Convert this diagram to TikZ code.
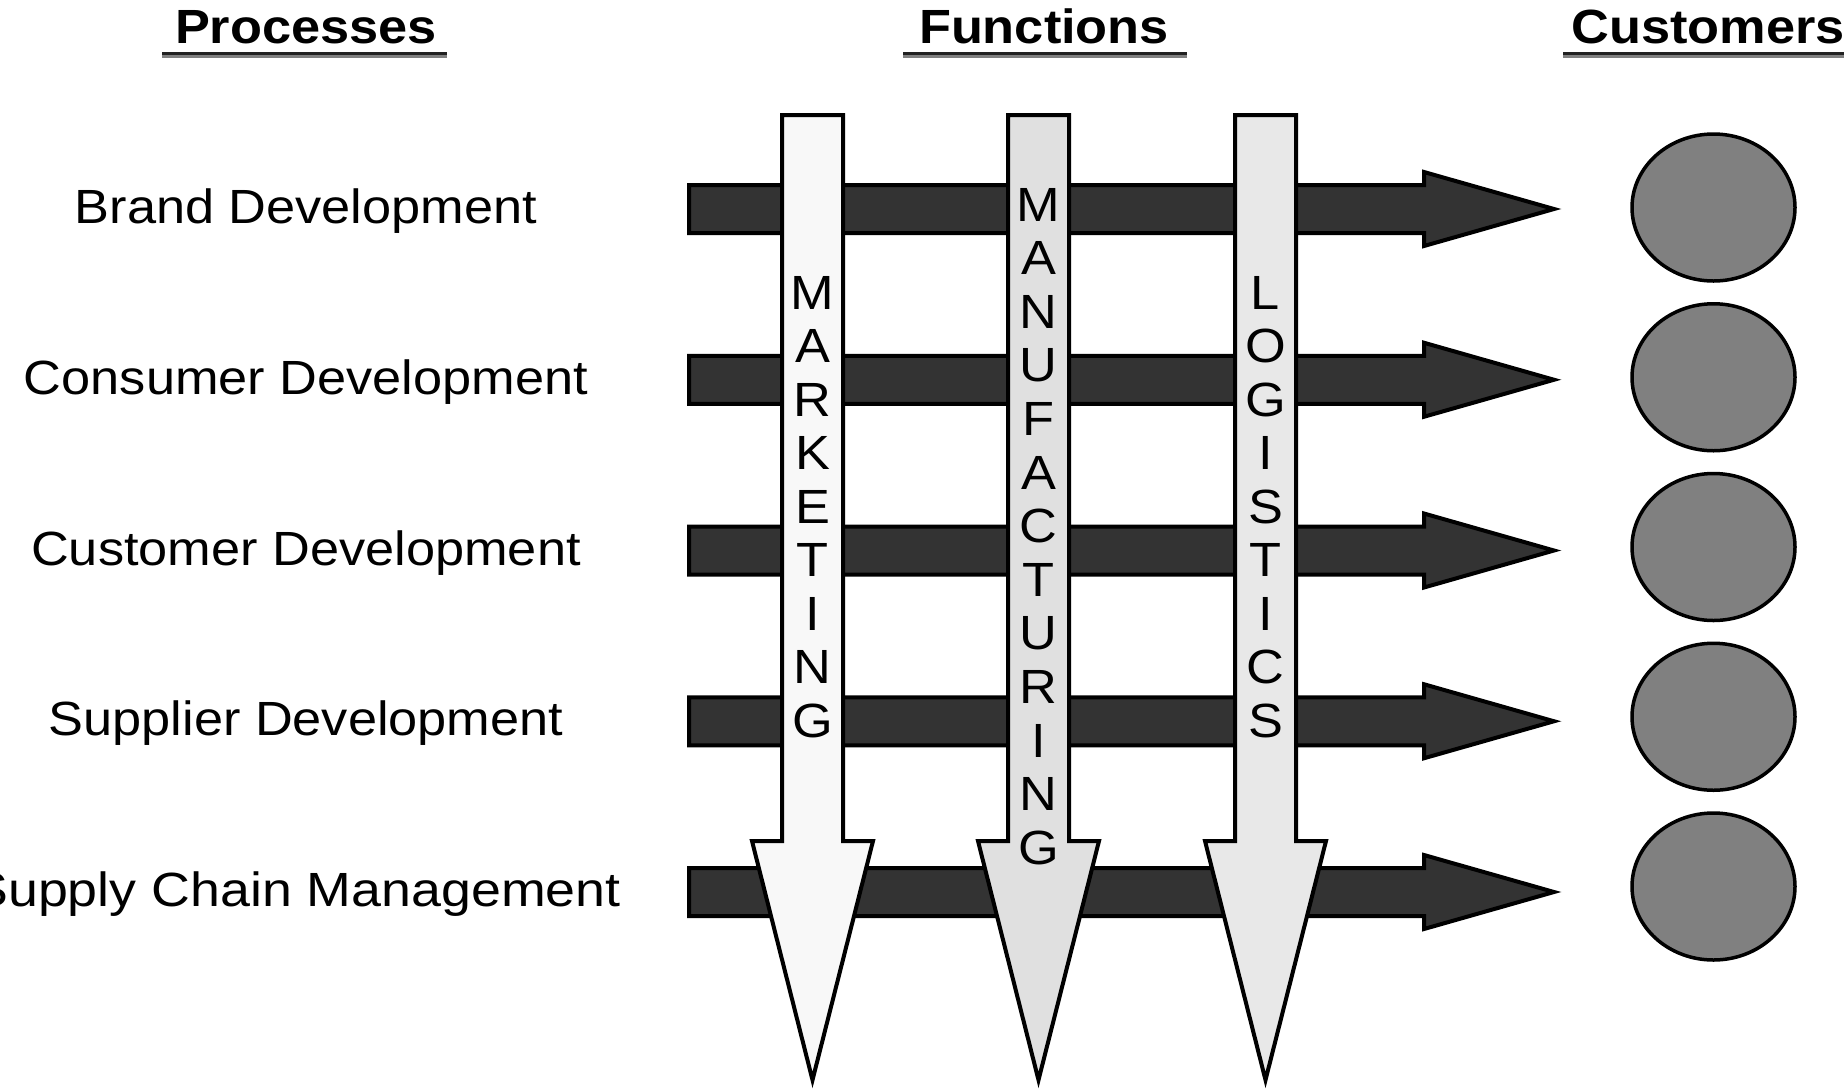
\documentclass[tikz,border=0pt]{standalone}
\usepackage{fontspec}
\setmainfont{Liberation Sans}
\usepackage{graphicx}
\usetikzlibrary{shapes.geometric}
\definecolor{bardark}{HTML}{333333}
\definecolor{custgray}{HTML}{808080}
\definecolor{mktfill}{HTML}{F8F8F8}
\definecolor{mfgfill}{HTML}{E0E0E0}
\definecolor{lgsfill}{HTML}{E8E8E8}
\definecolor{ulinedark}{HTML}{222222}
\definecolor{ulinegray}{HTML}{808080}
\newcommand{\sx}[1]{\scalebox{1.09}[1]{#1}}
\begin{document}
\begin{tikzpicture}[x=1pt,y=-1pt,
  hbar/.style={fill=bardark, draw=black, line width=4pt, line join=miter},
  vbar/.style={draw=black, line width=4pt, line join=miter},
  cust/.style={ellipse, draw=black, fill=custgray, line width=3.5pt, minimum width=163pt, minimum height=147pt, inner sep=0pt},
  title/.style={font=\fontsize{48}{52}\selectfont\bfseries, anchor=base, inner sep=0pt},
  proc/.style={font=\fontsize{48}{52}\selectfont, anchor=base, inner sep=0pt},
  vletter/.style={font=\fontsize{48}{52}\selectfont, anchor=base, inner sep=0pt},
  ulinea/.style={draw=ulinedark, line width=3pt},
  ulineb/.style={draw=ulinegray, line width=3pt}
]
\useasboundingbox (0,0) rectangle (1848,1088);
\fill[white] (0,0) rectangle (1848,1088);

% titles
\node[title] (tproc) at (306,43) {\sx{Processes}};
\node[title] (tfunc) at (1044,43) {\sx{Functions}};
\node[title] (tcust) at (1708,43) {\sx{Customers}};
\draw[ulinea] (162,53.5) -- (447,53.5);
\draw[ulineb] (162,56.5) -- (447,56.5);
\draw[ulinea] (903,53.5) -- (1187,53.5);
\draw[ulineb] (903,56.5) -- (1187,56.5);
\draw[ulinea] (1563,53.5) -- (1844,53.5);
\draw[ulineb] (1563,56.5) -- (1844,56.5);

% process labels
\node[proc] (p1) at (306,223) {\sx{Brand Development}};
\node[proc] (p2) at (306,394) {\sx{Consumer Development}};
\node[proc] (p3) at (306,565) {\sx{Customer Development}};
\node[proc] (p4) at (306,735) {\sx{Supplier Development}};
\node[proc, anchor=base east] (p5) at (621,906) {\scalebox{1.12}[1]{Supply Chain Management}};

% horizontal process arrows
\foreach \yc in {209,379.75,550.5,721.25,892} {
  \draw[hbar] (689,\yc-24) -- (1424,\yc-24) -- (1424,\yc-37) -- (1554,\yc)
     -- (1424,\yc+37) -- (1424,\yc+24) -- (689,\yc+24) -- cycle;
}

% customers
\foreach \i in {1,...,5} {
  \node[cust] (c\i) at (1713.5,{207.5+169.75*(\i-1)}) {};
}

% vertical function arrows
\foreach \xc/\col in {812.5/mktfill,1038.5/mfgfill,1265.5/lgsfill} {
  \draw[vbar, fill=\col] (\xc-30.5,115) -- (\xc+30.5,115) -- (\xc+30.5,841)
     -- (\xc+60.5,841) -- (\xc,1080) -- (\xc-60.5,841) -- (\xc-30.5,841) -- cycle;
}

% vertical letters
\foreach \l [count=\i] in {M,A,R,K,E,T,I,N,G} {
  \node[vletter] (mk\i) at (812.5,{309+53.5*(\i-1)}) {\sx{\l}};
}
\foreach \l [count=\i] in {M,A,N,U,F,A,C,T,U,R,I,N,G} {
  \node[vletter] (mf\i) at (1038.5,{221+53.6*(\i-1)}) {\sx{\l}};
}
\foreach \l [count=\i] in {L,O,G,I,S,T,I,C,S} {
  \node[vletter] (lg\i) at (1265.5,{309+53.5*(\i-1)}) {\sx{\l}};
}
\end{tikzpicture}
\end{document}
